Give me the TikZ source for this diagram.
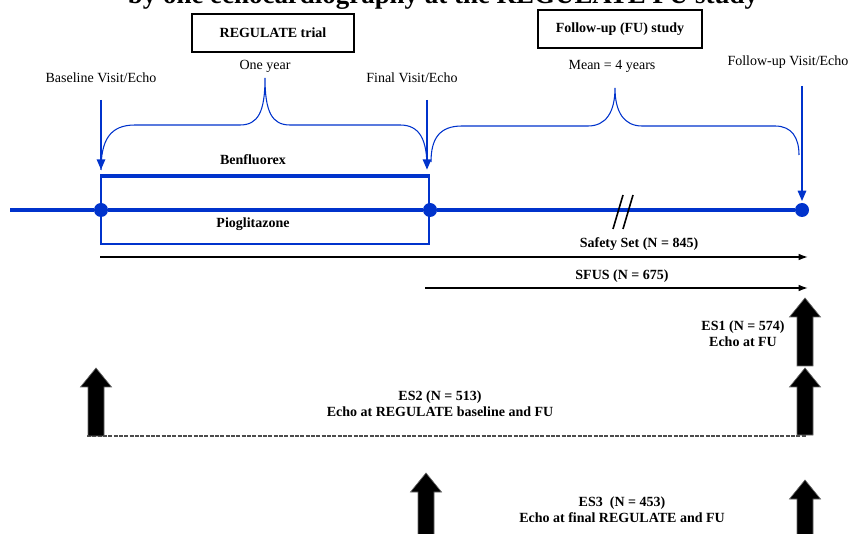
\documentclass[tikz,border=0pt]{standalone}
\usepackage{fontspec}
\setmainfont{Liberation Serif}
\usepackage{xcolor}
\usetikzlibrary{arrows.meta, positioning}
\definecolor{tlblue}{RGB}{0,51,204}

% block arrow pointing up: x, top, bottom (px units)
\newcommand{\blockup}[3]{%
  \filldraw[black, draw=black!60, line width=0.5pt]
    ({#1-8},{#3}) -- ({#1-8},{#2+19}) -- ({#1-15.5},{#2+19}) -- (#1,#2)
    -- ({#1+15.5},{#2+19}) -- ({#1+8},{#2+19}) -- ({#1+8},{#3}) -- cycle;}

\begin{document}
\begin{tikzpicture}[
    x=0.75pt, y=-0.75pt,
    lbl/.style={font=\fontsize{10.5}{12}\selectfont, inner sep=0pt, align=center},
    blbl/.style={font=\fontsize{10.5}{12}\selectfont\bfseries, inner sep=0pt, align=center},
    studybox/.style={draw, line width=1pt, minimum height=28.5pt, font=\fontsize{10.5}{12}\selectfont\bfseries},
    dot/.style={circle, fill=tlblue, inner sep=0pt, minimum size=10.5pt},
    timeline/.style={tlblue, line width=3pt},
    visit/.style={-{Triangle[width=6pt,length=8pt]}, tlblue, line width=2pt},
    brace/.style={tlblue, line width=0.8pt},
    pop/.style={-{Latex[length=7pt,width=5pt]}, line width=1.1pt},
    pair/.style={black!70, line width=0.8pt, dash pattern=on 3pt off 1pt}
]
\useasboundingbox (0,0) rectangle (853,534);

% Title (cut at the top)
\node[font=\fontsize{20.2}{23}\selectfont\bfseries, anchor=base, inner sep=0pt] (title) at (443,4)
  {by one echocardiography at the REGULATE FU study};

% Study boxes
\node[studybox, minimum width=121.5pt] (regbox) at (273,33) {REGULATE trial};
\node[studybox, minimum width=123pt] (fubox) at (620,29) {Follow-up (FU) study};

% Visit labels
\node[lbl] (basevis) at (101,78) {Baseline Visit/Echo};
\node[lbl] (finvis) at (412,78) {Final Visit/Echo};
\node[lbl] (fuvis) at (788,62) {Follow-up Visit/Echo};
\node[lbl] (oneyr) at (265,66) {One year};
\node[lbl] (meanyr) at (612,66) {Mean = 4 years};

% Braces
\draw[brace] (101,170) .. controls (101,140) and (110,125) .. (135,125) -- (240,125)
  .. controls (258,125) and (265,112) .. (265,78)
  .. controls (265,112) and (272,125) .. (290,125) -- (400,125)
  .. controls (420,125) and (427,140) .. (427,168);
\draw[brace] (431,162) .. controls (431,138) and (440,126) .. (462,126) -- (588,126)
  .. controls (606,126) and (615,112) .. (615,88)
  .. controls (615,112) and (624,126) .. (642,126) -- (775,126)
  .. controls (792,126) and (799,138) .. (799,155);

% Treatment box
\node[draw=tlblue, line width=1.5pt, minimum width=246pt, minimum height=50.25pt, inner sep=0pt] (drug) at (265,210.5) {};
\draw[tlblue, line width=2.5pt] (drug.north west) -- (drug.north east);
\node[blbl] (benf) at (253,160) {Benfluorex};
\node[blbl] (piog) at (253,224) {Pioglitazone};

% Timeline
\coordinate (t0) at (10,210);
\node[dot] (d1) at (101,210) {};
\node[dot] (d2) at (430,210) {};
\node[dot] (d3) at (802,210) {};
\draw[timeline] (t0) -- (d1) -- (d2) -- (d3);
\draw[line width=1.2pt] (613,229) -- (623,195);
\draw[line width=1.2pt] (623,229) -- (633,195);

% Visit arrows
\coordinate (v1) at (101,100);
\coordinate (v1e) at (101,170);
\coordinate (v2) at (427,100);
\coordinate (v2e) at (427,170);
\coordinate (v3) at (802,86);
\draw[visit] (v1) -- (v1e);
\draw[visit] (v2) -- (v2e);
\draw[visit, shorten >=1pt] (v3) -- (d3);

% Analysis sets
\coordinate (s0) at (100,257);
\coordinate (s1) at (808,257);
\coordinate (f0) at (425,288);
\coordinate (f1) at (808,288);
\draw[pop] (s0) -- (s1);
\draw[pop] (f0) -- (f1);
\node[blbl] (safety) at (639,244) {Safety Set (N = 845)};
\node[blbl] (sfus) at (622,276) {SFUS (N = 675)};

% Echo sets
\blockup{805}{298}{366}
\node[blbl] (es1) at (743,334) {ES1 (N = 574)\\Echo at FU};

\coordinate (e0) at (87,436);
\coordinate (e1) at (807,436);
\draw[pair] (e0) -- (e1);
\blockup{96}{368}{436}
\blockup{805}{368}{435}
\node[blbl] (es2) at (440,404) {ES2 (N = 513)\\Echo at REGULATE baseline and FU};

\blockup{426}{473}{540}
\blockup{805}{480}{540}
\node[blbl] (es3) at (622,510) {ES3\ \ (N = 453)\\Echo at final REGULATE and FU};

\end{tikzpicture}
\end{document}
